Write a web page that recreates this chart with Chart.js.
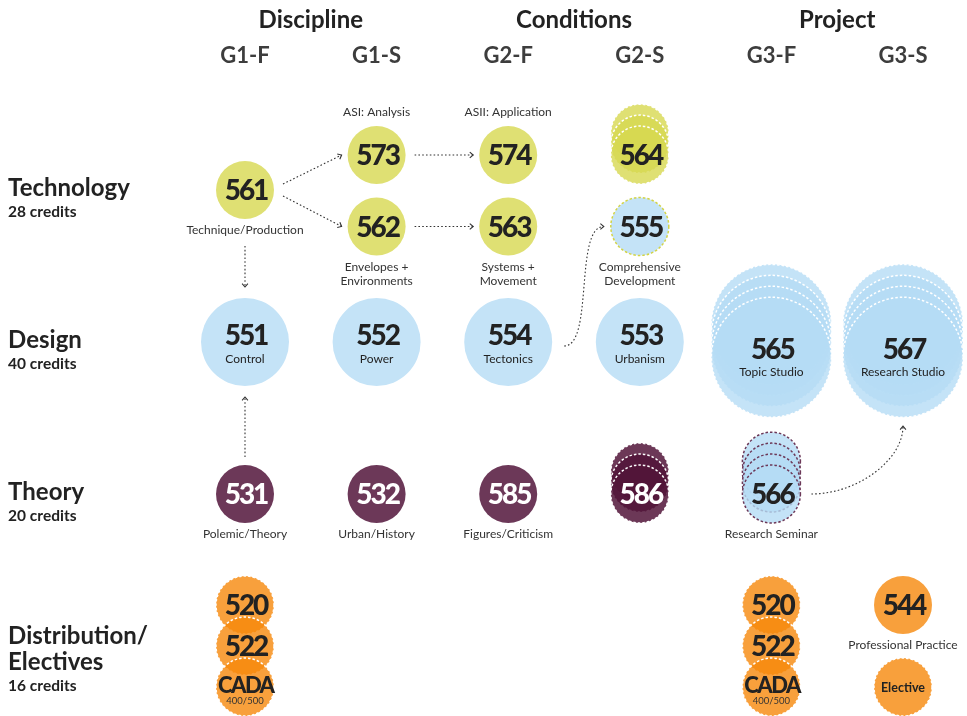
<!DOCTYPE html>
<html>
<head>
<meta charset="utf-8">
<title>Curriculum</title>
<script src="https://cdn.jsdelivr.net/npm/chart.js@4.4.1/dist/chart.umd.min.js"></script>
<style>
html, body { margin: 0; padding: 0; background: #fff; }
#wrap { width: 967px; height: 716px; position: relative; }
</style>
</head>
<body>
<div id="wrap"><canvas id="curriculumChart"></canvas></div>
<script>

// Get chart element.
var canvas = document.getElementById('curriculumChart').getContext('2d');

// Column headings (year + term) and the groups above them.
const terms = ['G1-F', 'G1-S', 'G2-F', 'G2-S', 'G3-F', 'G3-S'];
const groupNames = ['Discipline', 'Conditions', 'Project'];
const groupFirstTerm = [0, 2, 4];
const groupLastTerm = [1, 3, 5];

// Rows: subject area and its credits.
const areaNames = [['Technology'], ['Design'], ['Theory'], ['Distribution/', 'Electives']];
const areaCredits = [28, 40, 20, 16];

// Courses (one entry each, read left to right, top to bottom).
const courseIds      = ['561', '573', '562', '574', '563', '564', '555',
                        '551', '552', '554', '553', '565', '567',
                        '531', '532', '585', '586', '566',
                        '520', '522', 'CADA', '520', '522', 'CADA', '544', 'Elective'];
const courseNames    = ['Technique/Production', 'ASI: Analysis', 'Envelopes +\nEnvironments', 'ASII: Application', 'Systems +\nMovement', '', 'Comprehensive\nDevelopment',
                        'Control', 'Power', 'Tectonics', 'Urbanism', 'Topic Studio', 'Research Studio',
                        'Polemic/Theory', 'Urban/History', 'Figures/Criticism', '', 'Research Seminar',
                        '', '', '400/500', '', '', '400/500', 'Professional Practice', ''];
const courseTerm     = [0, 1, 1, 2, 2, 3, 3,   0, 1, 2, 3, 4, 5,   0, 1, 2, 3, 4,   0, 0, 0, 4, 4, 4, 5, 5];
const courseRow      = [0, 0, 0, 0, 0, 0, 0,   1, 1, 1, 1, 1, 1,   2, 2, 2, 2, 2,   3, 3, 3, 3, 3, 3, 3, 3];
const courseSlot     = [0, -0.23, 0.24, -0.23, 0.24, -0.23, 0.24,   0, 0, 0, 0, 0.1, 0.1,   0, 0, 0, 0, 0,
                        -0.27, 0, 0.27, -0.27, 0, 0.27, -0.27, 0.27];
const courseArea     = [0, 0, 0, 0, 0, 0, 1,   1, 1, 1, 1, 1, 1,   2, 2, 2, 2, 1,   3, 3, 3, 3, 3, 3, 3, 3];
const courseKind     = ['course', 'course', 'course', 'course', 'course', 'course', 'course',
                        'core', 'core', 'core', 'core', 'studio', 'studio',
                        'course', 'course', 'course', 'course', 'course',
                        'course', 'course', 'course', 'course', 'course', 'course', 'course', 'course'];
const courseSections = [1, 1, 1, 1, 1, 3, 1,   1, 1, 1, 1, 4, 4,   1, 1, 1, 3, 4,   1, 1, 1, 1, 1, 1, 1, 1];
const courseChoice   = [0, 0, 0, 0, 0, 1, 0,   0, 0, 0, 0, 1, 1,   0, 0, 0, 1, 1,   1, 1, 1, 1, 1, 1, 0, 1];

// Prerequisite arrows.
const linkFrom  = ['561', '561', '573', '562', '561', '531', '554', '566'];
const linkTo    = ['573', '562', '574', '563', '551', '551', '555', '567'];
const linkEnter = ['left', 'left', 'left', 'left', 'top', 'bottom', 'left', 'bottom'];


/*****/


// Styles.
const FONT = 'Lato, "Open Sans", sans-serif';
const RADIUS = {course: 29, core: 44, studio: 60};
const STACK_STEP = 0.072;
const areaInk = ['#dfe073', '#c4e3f7', '#6c3858', '#f8a03c'];
const areaStackInk = ['rgba(215,216,80,0.8)', 'rgba(181,220,245,0.8)', 'rgba(82,21,58,0.85)', 'rgba(246,136,11,0.8)'];
const rowEdge = ['#d3d446', '#9fcdef', '#6c3858', '#f39224'];

// One bubble per section; back sections first so the front one sits on top.
const points = [];
courseIds.forEach(function (id, i) {
	for (let k = courseSections[i] - 1; k >= 0; k--) {
		points.push({x: courseTerm[i], y: courseRow[i] + courseSlot[i] - k * STACK_STEP, r: RADIUS[courseKind[i]], course: i});
	}
});

function fillFor(i) {
	return (courseChoice[i] || courseSections[i] > 1) ? areaStackInk[courseArea[i]] : areaInk[courseArea[i]];
}
function edgeFor(i) {
	if (courseArea[i] !== courseRow[i]) return rowEdge[courseRow[i]];
	return courseChoice[i] ? '#ffffff' : 'rgba(0,0,0,0)';
}
function hasEdge(i) {
	return courseArea[i] !== courseRow[i] || courseChoice[i] === 1;
}

// Write text centred on the cap height.
function say(ctx, str, x, y, size, weight, color, align, spacing) {
	ctx.font = weight + ' ' + size + 'px ' + FONT;
	ctx.fillStyle = color;
	ctx.textAlign = align || 'center';
	ctx.textBaseline = 'alphabetic';
	ctx.letterSpacing = (spacing || 0) + 'px';
	// letter spacing pads the right side too, so nudge centred text back
	const nudge = (align || 'center') === 'center' ? (spacing || 0) / 2 : 0;
	ctx.fillText(str, x - nudge, y + size * 0.358);
	ctx.letterSpacing = '0px';
}

function arrowHead(ctx, x, y, angle) {
	const s = 4.5;
	ctx.setLineDash([]);
	ctx.beginPath();
	ctx.moveTo(x - s * Math.cos(angle - 0.7), y - s * Math.sin(angle - 0.7));
	ctx.lineTo(x, y);
	ctx.lineTo(x - s * Math.cos(angle + 0.7), y - s * Math.sin(angle + 0.7));
	ctx.stroke();
}

const dashedEdges = {
	id: 'dashedEdges',
	beforeDatasetDraw(chart) { chart.ctx.setLineDash([2.5, 2]); },
	afterDatasetDraw(chart) { chart.ctx.setLineDash([]); }
};

const labels = {
	id: 'labels',
	afterDatasetsDraw(chart) {
		const ctx = chart.ctx;
		const xs = chart.scales.x, ys = chart.scales.y;
		const cx = i => xs.getPixelForValue(courseTerm[i]);
		const cy = i => ys.getPixelForValue(courseRow[i] + courseSlot[i]);
		const rad = i => RADIUS[courseKind[i]];
		ctx.save();

		// Group and term headings.
		groupNames.forEach(function (g, k) {
			const x = (xs.getPixelForValue(groupFirstTerm[k]) + xs.getPixelForValue(groupLastTerm[k])) / 2;
			say(ctx, g, x, ys.getPixelForValue(-1.125), 24, 'bold', '#222');
		});
		terms.forEach(function (t, k) {
			say(ctx, t, xs.getPixelForValue(k), ys.getPixelForValue(-0.89), 22, 'bold', '#3d3d3d');
		});

		// Row headings.
		areaNames.forEach(function (lines, r) {
			const x = xs.getPixelForValue(-1.80);
			let y = ys.getPixelForValue(r) - 3 - (lines.length - 1) * 8;
			lines.forEach(function (line, n) {
				say(ctx, line, x, y + n * 26, 24, 'bold', '#222', 'left');
			});
			say(ctx, areaCredits[r] + ' credits', x, y + (lines.length - 1) * 26 + 24, 15.5, 'bold', '#222', 'left');
		});

		// Course numbers and captions.
		courseIds.forEach(function (id, i) {
			const x = cx(i), y = cy(i), r = rad(i);
			const ink = courseArea[i] === 2 ? '#ffffff' : '#222';
			const lines = courseNames[i] ? courseNames[i].split('\n') : [];
			if (/^\d+$/.test(id)) {
				if (courseKind[i] === 'course') {
					say(ctx, id, x, y, 28, '900', ink, 'center', -2);
					if (courseRow[i] === 0 && courseSlot[i] < 0) {
						lines.forEach((l, n) => say(ctx, l, x, y - r - 14 - (lines.length - 1 - n) * 14, 12, 'normal', '#333'));
					} else {
						lines.forEach((l, n) => say(ctx, l, x, y + r + 11 + n * 14, 12, 'normal', '#333'));
					}
				} else {
					const up = courseKind[i] === 'core' ? 7 : 8;
					say(ctx, id, x, y - up, 28, '900', ink, 'center', -2);
					lines.forEach((l, n) => say(ctx, l, x, y + (courseKind[i] === 'core' ? 17 : 15) + n * 14, 12, 'normal', '#222'));
				}
			} else if (lines.length) {
				say(ctx, id, x, y - 2, 22, '900', ink, 'center', -1.5);
				say(ctx, lines[0], x, y + 14, 9.5, 'normal', '#333');
			} else {
				say(ctx, id, x, y, 12.5, 'bold', ink);
			}
		});

		// Prerequisite arrows.
		ctx.strokeStyle = '#333';
		ctx.lineWidth = 1.1;
		linkFrom.forEach(function (fromId, k) {
			const a = courseIds.indexOf(fromId), b = courseIds.indexOf(linkTo[k]);
			const ax = cx(a), ay = cy(a), ar = rad(a), bx = cx(b), by = cy(b), br = rad(b);
			let sx, sy, ex, ey, c1, c2;
			if (linkEnter[k] === 'top') {
				sx = ax; sy = ay + ar + (courseNames[a] ? 27 : 8);
				ex = bx; ey = by - br - 11;
			} else if (linkEnter[k] === 'bottom' && courseTerm[a] === courseTerm[b]) {
				sx = ax; sy = ay - ar - 8;
				ex = bx; ey = by + br + 11;
			} else if (linkEnter[k] === 'bottom') {
				sx = ax + ar + 11; sy = ay;
				ex = bx; ey = by + br + 9;
				c1 = [sx + (ex - sx) * 0.5, sy];
				c2 = [ex, ey + Math.abs(ey - sy) * 0.5];
			} else if (courseRow[a] !== courseRow[b]) {
				sx = ax + ar + 12; sy = ay + 4;
				ex = bx - br - 7; ey = by;
				c1 = [sx + (ex - sx) * 0.75, sy];
				c2 = [ex - (ex - sx) * 0.75, ey];
			} else {
				sx = ax + ar + 9;
				sy = ay + Math.sign(Math.round(by - ay)) * 6;
				ex = bx - br - 6; ey = by;
			}
			ctx.setLineDash([1.6, 2.2]);
			ctx.beginPath();
			ctx.moveTo(sx, sy);
			let angle;
			if (c1) {
				ctx.bezierCurveTo(c1[0], c1[1], c2[0], c2[1], ex, ey);
				angle = Math.atan2(ey - c2[1], ex - c2[0]);
			} else {
				ctx.lineTo(ex, ey);
				angle = Math.atan2(ey - sy, ex - sx);
			}
			ctx.stroke();
			arrowHead(ctx, ex, ey, angle);
		});

		ctx.restore();
	}
};

var curriculumChart = new Chart(canvas, {
	type: 'bubble',
	data: {
		datasets: [
			{
				label: 'Courses',
				data: points,
				backgroundColor: c => fillFor(c.raw.course),
				borderColor: c => edgeFor(c.raw.course),
				borderWidth: c => hasEdge(c.raw.course) ? 1.5 : 0
			}
		]
	},
	options: {
		responsive: true,
		maintainAspectRatio: false,
		animation: false,
		events: [],
		layout: { padding: 0, autoPadding: false },
		plugins: { legend: { display: false }, tooltip: { enabled: false } },
		scales: {
			x: { type: 'linear', display: false, min: -245 / 131.6, max: (967 - 245) / 131.6 },
			y: { type: 'linear', display: false, reverse: true, min: -190 / 152, max: (716 - 190) / 152 }
		}
	},
	plugins: [dashedEdges, labels]
});

</script>
</body>
</html>
